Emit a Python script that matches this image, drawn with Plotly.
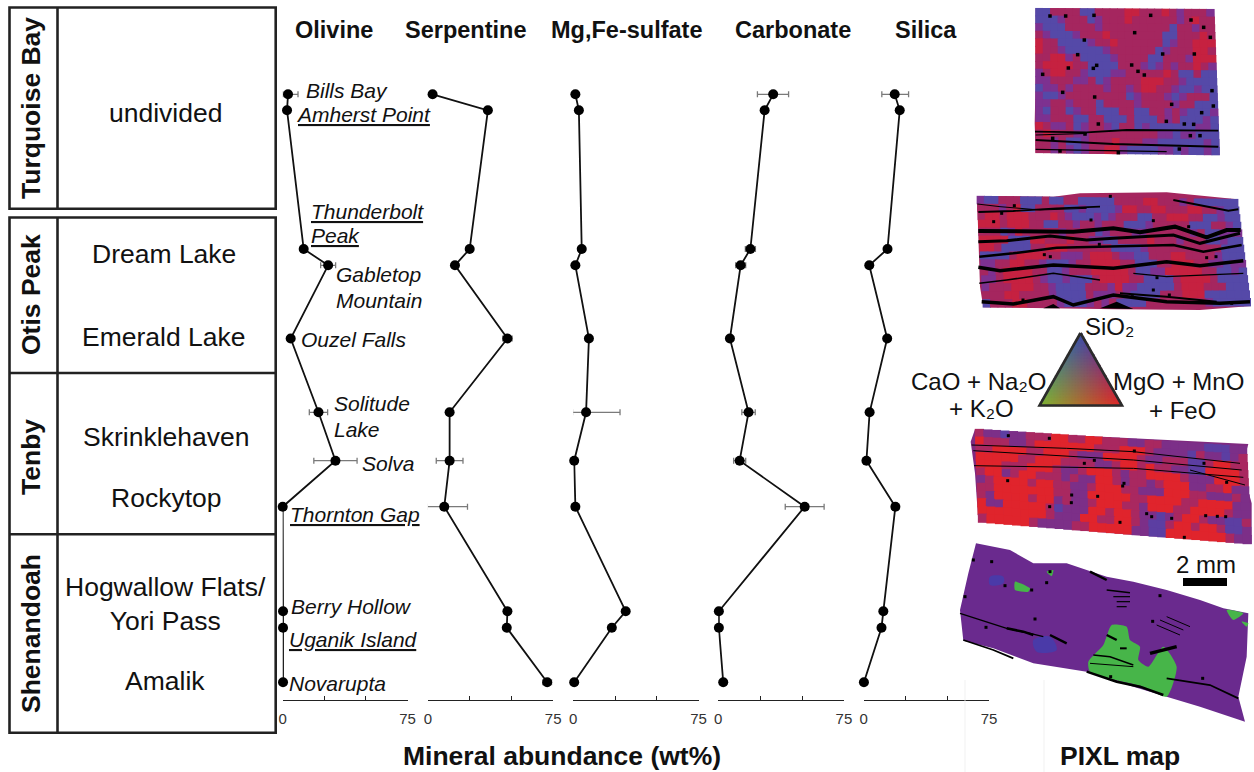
import numpy as np
import plotly.graph_objects as go

W, H = 1254, 772

# ---------- data ----------
samples = ["Bills Bay", "Amherst Point", "Thunderbolt Peak", "Gabletop Mountain", "Ouzel Falls",
           "Solitude Lake", "Solva", "Thornton Gap", "Berry Hollow", "Uganik Island", "Novarupta"]
strat_pos = [94.3, 110.3, 249, 265.3, 338.5, 412.3, 460.7, 506.7, 611.3, 627.7, 682.3]

minerals = ["Olivine", "Serpentine", "Mg,Fe-sulfate", "Carbonate", "Silica"]
olivine = [3.2, 2.6, 12.6, 27.3, 4.8, 21.5, 31.7, 0, 0.2, 0.2, 0.2]
serpentine = [2.8, 35.9, 25, 16.2, 47.6, 13, 13, 9.8, 47.6, 47.2, 71.4]
sulfate = [1.3, 3.4, 5.1, 1.3, 9.4, 7.7, 0.6, 1.3, 31.4, 23.1, 0.6]
carbonate = [32.8, 27.7, 19.2, 13.4, 7, 18.1, 12.8, 51.6, 0.4, 0.4, 3]
silica = [18.6, 21.6, 14.3, 3.4, 14.1, 3.6, 1.7, 19, 11.8, 10.7, 0.2]

olivine_plus = [6, 0, 0, 4.5, 0, 5.5, 13, 0, 0, 0, 0]
olivine_minus = [3, 0, 0, 4.5, 0, 5.5, 13, 0, 0, 0, 0]
serpentine_plus = [0, 0, 0, 0, 2.8, 0, 8, 13.9, 0, 0, 2.6]
serpentine_minus = [0, 0, 0, 0, 2.8, 0, 8, 10.3, 0, 0, 2.6]
sulfate_plus = [0, 0, 0, 0, 0, 20.3, 0, 0, 0, 0, 0]
sulfate_minus = [0, 0, 0, 0, 0, 8.1, 0, 0, 0, 0, 0]
carbonate_plus = [9.2, 0, 3, 3, 0, 4, 3.6, 11.6, 0, 0, 0]
carbonate_minus = [9.4, 0, 3, 3, 0, 4, 3.6, 11.6, 0, 0, 0]
silica_plus = [8.3, 0, 0, 0, 0, 0, 0, 0, 0, 0, 0]
silica_minus = [7.7, 0, 0, 0, 0, 0, 0, 0, 0, 0, 0]

tick_vals = [0, 25, 50, 75]
tick_text = ["0", "", "", "75"]

members = ["undivided", "Dream Lake", "Emerald Lake", "Skrinklehaven", "Rockytop",
           "Hogwallow Flats/<br>Yori Pass", "Amalik"]
formations = ["Turquoise Bay", "Otis Peak", "Tenby", "Shenandoah"]

# PIXL maps: phase cells. B blue, P purple, M crimson, R red
m1_cells = [
 "BBMMMMBBMMMMRRMMMRMPMMMP",
 "BBBPMMMBPMMMRMMMMMMPMRMM",
 "PBBBMMMMPMMMMMMMMMBMMPMM",
 "MPBBBPMMMRMMMMMMMBBMMMRM",
 "RMMBBBBPMMRMMMMMMBPMMRRR",
 "RMMPBBBBBPMMMMMMBPMMMRRM",
 "MMRRPMBBBBPMMMMBBMMMPRRR",
 "MRRRRMMBBBBMMMPBPMPMMRMP",
 "PMRRMMPBBBPPMMMMMRMBBMBB",
 "PPMMMPPMBPMMMMRRRMMPBBBB",
 "BPPMPMMMMPMMPMRRMMPBBPBB",
 "PBBPMMMMMMMMBPMMMPBPMMMB",
 "PPMMPMMMBMMMMPMMMMPMMBBB",
 "PBMMBPMMBBBMMBBMMPMPBBBP",
 "PPMMMBBMMBBBMBBBMPMBBBPB",
 "RMPPMBPMMPBMMBPBBBBBBPPB",
 "MRMMMPPMMMMMMMMMPPBPPBBB",
 "MMPMBBPMMMRMMMPPBBBBBBPB",
 "MMPMPBPMMRRPBBBBPPBPBBPB",
]
m2_cells = [
 "PBBMMMBBBMBBMMBBBBBMMMMRRMMMPMBBBBBB",
 "MMMPMRBBMMMMBBPBBBBPRRMMRRMMMRRMMPBB",
 "MRRMRRRMMMRMPBBBPBPMMMBBMMRRRMMBBPBB",
 "RRRMRRRMMBBMMPMMPMMMBBBPMMMMMBBBMMPB",
 "MMMBPRMMMMMPMMMMBPMMMPPMMMMMMPMBBPPP",
 "RRRRBBBRRMMMRMMPPBBMMMMRMMMPMMMBBPBB",
 "RRMBBBBMMRRRMMMMMMBBBBPMMMMMMMMMMBBB",
 "BBBBMRRRRMMPPPMRRRMPPBBMMMRRMMMMPBBB",
 "PPMMRRMMPBBBPMMRRRRMMBBBMMRRRMMPPBPP",
 "MPMRRRRMMBBPMMMRRRRRMBBPPRRRRRMMBBPB",
 "PPMRRRRMPBBPBBBMRRRRMMBBBBMRRRRMBBBB",
 "PMMMRRRMMPBBBBMMMPRPPBBBBBMRRRMMMBBB",
 "MMMRRMMMMPBBBBMPPPMPBBBBMMMRRRBBBBBB",
 "BMMMRRMMMMPBBBPMPMBBBBMMMMMMMMPBBBBB",
]
m3_cells = [
 "MPPBPPMMMRRMMRRMMMPPMMPPPPPBBBPP",
 "RMMMPPMRRRRRRRMMMRRRMPPPPBMPPBPM",
 "MMRRRRMMRRRMPPPRRRRMPPMMMBBMRRMM",
 "RRRRRMMRRRMMMMPPMRRMRMMPPBBRRRRM",
 "RRRMMMRRRMPPMRRRMPMMRRRRMPPPRRRM",
 "MRRPMRRMMMPMPPRRMPMMPMRRRPPMMRPP",
 "PMRRRRMRRMMPPMRRRMMPPPRRRMMPPPMP",
 "MMRRRRRRRMMPPRRRRRMMRRRRMMRRRRPP",
 "MPRRRRMRRPMPPMRRRMMPRRRMMRRRRMPP",
 "RPPRRRRRMBPPPRRMRRMPPBPMRRMPPBBM",
 "RRRRRRRRMPPPRRMMRRMPBBMRRMRRMBBP",
 "MRRRRRMPPPPMMRRRRRPPBBRRRRRRRMPP",
]

# PIXL map outlines and features
m1_corners = [(407,25),(942,28),(959,465),(407,458)]
m1_outline = [(407,25),(942,28),(947,150),(959,465),(800,460),(650,463),(407,458),(404,370),(407,230)]
m1_lines = [([(405,395),(560,397),(680,390),(955,392)],1.8),
            ([(407,420),(640,432),(955,440)],2),
            ([(407,448),(500,450),(800,455)],1.2),
            ([(407,405),(560,400)],1.2)]
m1_dots = [(450,48),(497,48),(582,46),(752,46),(873,60),(911,82),(931,112),(704,98),(553,120),(533,164),(788,162),
           (883,162),(505,204),(580,205),(590,196),(695,195),(714,214),(733,225),(428,223),(488,277),(584,291),(815,313),
           (936,272),(940,318),(905,338),(799,364),(853,372),(881,373),(595,372),(458,415),(555,402),(871,407),(900,407),
           (838,447),(480,453),(655,458)]

m2_corners = [(231,588),(1012,598),(1053,918),(250,922)]
m2_outline = [(231,588),(460,590),(540,580),(800,577),(1012,598),(1020,690),(1030,790),(1053,918),(900,930),
              (650,928),(500,925),(250,922),(240,860),(234,700)]
m2_lines = [([(232,612),(300,620),(420,630),(560,625)],1),
            ([(235,636),(340,633),(470,625),(600,620)],1.8),
            ([(820,600),(900,615),(985,632),(1015,628)],2),
            ([(235,693),(400,695),(520,695),(640,685),(720,697),(825,680),(920,712),(980,690),(1022,690)],4),
            ([(235,725),(320,722),(450,708),(560,720),(640,715),(820,705),(900,730),(1020,700)],3),
            ([(238,770),(340,760),(470,743),(600,740),(680,740),(820,735),(910,755),(1025,735)],2.5),
            ([(235,802),(300,812),(460,795),(640,805),(800,785),(900,797),(1030,782)],3.5),
            ([(238,850),(320,840),(460,820),(600,840)],1.5),
            ([(660,880),(800,890),(950,905)],2),
            ([(245,905),(340,912),(460,890),(520,915),(640,885),(800,905),(960,910),(1050,905)],3.5),
            ([(700,820),(800,830),(1030,820)],1.2)]
m2_wedges = [[(430,925),(460,912),(480,925)], [(600,925),(650,905),(700,927)]]
m2_dots = [(343,617),(305,640),(281,665),(573,660),(760,662),(866,680),(598,733),(433,764),(451,770),(920,773),(948,770),
           (771,833),(760,870),(697,890),(808,885),(995,910),(369,900),(631,589)]

m3_corners = [(225,88),(1040,140),(1055,432),(235,365)]
m3_outline = [(225,88),(500,105),(1045,132),(1040,150),(1015,160),(1030,220),(1055,310),(1055,432),(700,405),
              (235,365),(225,220),(212,125)]
m3_lines = [([(215,135),(500,145),(700,155),(1020,190)],1),
            ([(220,152),(700,180),(1025,210)],1),
            ([(222,197),(700,205),(1030,232)],1),
            ([(870,210),(1035,255)],1)]
m3_dots = [(325,107),(448,115),(703,153),(912,190),(553,190),(583,181),(323,242),(672,250),(668,258),(980,247),(515,285),
           (593,289),(514,308),(449,320),(740,341),(755,350),(815,355),(660,367),(917,347),(952,349),(977,350),(853,412)]

m4_outline = [(228,430),(330,450),(400,490),(500,490),(620,530),(700,545),(800,570),(900,600),(970,625),(1045,640),
              (1040,770),(1015,890),(1035,965),(900,920),(700,860),(560,815),(400,790),(280,745),(190,722),(180,630),(205,520)]
m4_green = [
 [(635,675),(680,680),(690,720),(720,740),(715,780),(745,800),(790,740),(830,800),(800,890),(730,860),(690,850),
  (570,815),(565,785),(610,735)],
 [(345,545),(390,565),(385,575),(345,570)],
 [(980,630),(1030,640),(1000,660)],
 [(1025,665),(1045,670),(1040,680)],
 [(440,515),(460,510),(455,528)],
]
m4_blue = [
 [(270,530),(310,530),(310,550),(270,555)],
 [(400,720),(450,710),(470,750),(410,755)],
]
m4_lines = [([(180,640),(260,665),(320,685),(390,700),(430,710)],1.3),
            ([(190,720),(280,750),(340,775)],1.8),
            ([(320,685),(370,695),(400,705)],2.5),
            ([(450,705),(500,730)],2.5),
            ([(560,815),(650,845),(720,860),(790,885)],2.5),
            ([(750,760),(830,740)],3.5),
            ([(800,835),(930,855),(1015,895)],1.8),
            ([(570,515),(620,540)],2.5),
            ([(620,570),(690,578)],1.5),([(640,590),(690,590)],1.2),([(650,605),(690,605)],1.2),([(650,620),(680,620)],1.2),
            ([(800,650),(870,680)],1),([(780,660),(850,690)],1),([(770,675),(840,705)],1),
            ([(580,765),(630,770),(700,795)],1.5),([(570,790),(700,800)],1),([(620,705),(650,720)],2.5),([(660,745),(680,745)],2)]
m4_dots = [(220,480),(275,485),(450,515),(440,548),(315,557),(395,570),(780,587),(758,664),(405,657),(258,682),(632,830),(908,835),(195,590)]

# ---------- layout constants ----------
panel_left = [282.7, 427.9, 573.2, 718.2, 863.6]
panel_right = [407.5, 553.2, 698.6, 843.9, 989.0]
axis_y = 700


def fx(x):
    return x / W


def fy(y):
    return 1 - y / H


FONT = "Liberation Sans, Arial, sans-serif"
INK = "#111111"

fig = go.Figure()


# ---------- PIXL maps, on an invisible full-page axis pair ----------
def z4(pts):
    return [900 + p[0] / 3 for p in pts], [p[1] / 3 for p in pts]


def z5(pts):
    return [900 + p[0] / 3 for p in pts], [400 + p[1] / 3 for p in pts]


def poly(pts, conv, color, smooth=False):
    xs, ys = conv(pts)
    line_style = dict(width=0, color=color)
    if smooth:
        line_style = dict(width=0, color=color, shape="spline", smoothing=smooth)
    fig.add_trace(go.Scatter(x=xs + xs[:1], y=ys + ys[:1], mode="lines", fill="toself", fillcolor=color,
                             line=line_style, xaxis="x6", yaxis="y6",
                             hoverinfo="skip", showlegend=False))


def cells(rows, corners, conv, palette, size):
    (ax, ay), (bx, by), (cx, cy), (dx, dy) = corners
    px, py, pc = [], [], []
    for j, row in enumerate(rows):
        v = (j + 0.5) / len(rows)
        for i, ch in enumerate(row):
            u = (i + 0.5) / len(row)
            px.append((1 - v) * ((1 - u) * ax + u * bx) + v * ((1 - u) * dx + u * cx))
            py.append((1 - v) * ((1 - u) * ay + u * by) + v * ((1 - u) * dy + u * cy))
            pc.append(palette[ch])
    xs, ys = conv(list(zip(px, py)))
    fig.add_trace(go.Scatter(x=xs, y=ys, mode="markers", marker=dict(size=size, color=pc, symbol="square", line=dict(width=0)),
                             xaxis="x6", yaxis="y6", hoverinfo="skip", showlegend=False))


def strokes(items, conv):
    for pts, w in items:
        xs, ys = conv(pts)
        fig.add_trace(go.Scatter(x=xs, y=ys, mode="lines", line=dict(width=w, color="black"), xaxis="x6", yaxis="y6",
                                 hoverinfo="skip", showlegend=False))


def dots(pts, conv, size=3.5):
    xs, ys = conv(pts)
    fig.add_trace(go.Scatter(x=xs, y=ys, mode="markers", marker=dict(size=size, color="black", symbol="square"),
                             xaxis="x6", yaxis="y6", hoverinfo="skip", showlegend=False))


PAL_A = {"B": "#5549a8", "P": "#7d3190", "M": "#a5265f", "R": "#c62140"}
PAL_B = {"B": "#5c3ea2", "P": "#7c2f88", "M": "#a92860", "R": "#e0242c"}

poly(m1_outline, z4, "#a5265f")
cells(m1_cells, m1_corners, z4, PAL_A, 8.4)
strokes(m1_lines, z4)
dots(m1_dots, z4)

poly(m2_outline, z4, "#a5265f")
cells(m2_cells, m2_corners, z4, PAL_A, 8.4)
strokes(m2_lines, z4)
for p in m2_wedges:
    poly(p, z4, "black")
dots(m2_dots, z4, 3)

poly(m3_outline, z5, "#7f2a80")
cells(m3_cells, m3_corners, z5, PAL_B, 9.2)
strokes(m3_lines, z5)
dots(m3_dots, z5, 3)

poly(m4_outline, z5, "#6a2a8e")
for p in m4_blue:
    poly(p, z5, "#4a3aa8", 1.0)
for p in m4_green:
    poly(p, z5, "#47b549", 0.6)
strokes(m4_lines, z5)
dots(m4_dots, z5, 3)

# ternary colour key (a colour ramp, not a data series)
tx0, ty0, tw, th = 1039.5, 333.0, 82.5, 72.5
c_top, c_left, c_right = np.array([58, 78, 172]), np.array([125, 182, 52]), np.array([226, 38, 40])
kx, ky, kc = [], [], []
for yy in np.arange(ty0, ty0 + th + 0.1, 1.5):
    a = (yy - ty0) / th
    for xx in np.arange(tx0, tx0 + tw + 0.1, 1.5):
        d = xx - (tx0 + tw / 2)
        if abs(d) <= a * tw / 2:
            r = (a * tw / 2 + d) / tw
            l = a - r
            col = np.clip((1 - a) * c_top + l * c_left + r * c_right, 0, 255).astype(int)
            kx.append(float(xx))
            ky.append(float(yy))
            kc.append(f"rgb({col[0]},{col[1]},{col[2]})")
fig.add_trace(go.Scatter(x=kx, y=ky, mode="markers", marker=dict(size=2.4, color=kc, symbol="square", line=dict(width=0)),
                         xaxis="x6", yaxis="y6", hoverinfo="skip", showlegend=False))
tri_x, tri_y = [1080.5, 1039.5, 1122, 1080.5], [333, 405.5, 405.5, 333]
fig.add_trace(go.Scatter(x=tri_x, y=tri_y, mode="lines", line=dict(width=2.6, color="#2b2b2b"), xaxis="x6", yaxis="y6",
                         hoverinfo="skip", showlegend=False))

# ---------- mineral profiles ----------
series = [(olivine, olivine_plus, olivine_minus), (serpentine, serpentine_plus, serpentine_minus),
          (sulfate, sulfate_plus, sulfate_minus), (carbonate, carbonate_plus, carbonate_minus),
          (silica, silica_plus, silica_minus)]
for k, (vals, ep, em) in enumerate(series):
    ax = "" if k == 0 else str(k + 1)
    fig.add_trace(go.Scatter(
        x=vals, y=strat_pos, text=samples, name=minerals[k], mode="lines+markers", cliponaxis=False,
        xaxis="x" + ax, yaxis="y", showlegend=False,
        line=dict(color=INK, width=1.8), marker=dict(color="black", size=10),
        error_x=dict(type="data", symmetric=False, array=ep, arrayminus=em, color="#7a7a7a", thickness=1.3, width=3),
    ))

layout_axes = {}
for k in range(5):
    key = "xaxis" if k == 0 else f"xaxis{k + 1}"
    layout_axes[key] = dict(domain=[fx(panel_left[k]), fx(panel_right[k])], range=[0, 75], anchor="y", automargin=False,
                            showline=True, linecolor="#222222", linewidth=1.3, ticks="inside", ticklen=4, tickwidth=1.1,
                            tickcolor="#222222", tickmode="array", tickvals=tick_vals, ticktext=tick_text,
                            tickangle=0, showgrid=False, zeroline=False, fixedrange=True, ticklabelstandoff=5,
                            tickfont=dict(family=FONT, size=15, color="#333333"))

shapes = []


def line(x0, y0, x1, y1, w=2.6, color="#222222"):
    shapes.append(dict(type="line", xref="paper", yref="paper", x0=fx(x0), y0=fy(y0), x1=fx(x1), y1=fy(y1),
                       line=dict(color=color, width=w)))


def rect(x0, y0, x1, y1, w=2.6, color="#222222", fill=None):
    shapes.append(dict(type="rect", xref="paper", yref="paper", x0=fx(x0), y0=fy(y0), x1=fx(x1), y1=fy(y1),
                       line=dict(color=color, width=w), fillcolor=fill))


rect(9.5, 7.5, 275.7, 208.7)
line(57.5, 7.5, 57.5, 208.7)
rect(9.5, 217.5, 275.7, 732.7)
line(57.5, 217.5, 57.5, 732.7)
line(9.5, 373, 275.7, 373)
line(9.5, 534.3, 275.7, 534.3)
# scale bar and faint frame lines from the pasted panel
rect(1183, 578, 1227, 586, w=0, color="black", fill="black")
line(965, 680, 965, 772, w=0.8, color="#eeeeee")
line(1044, 680, 1044, 772, w=0.8, color="#eeeeee")

ann = []


def text(x, y, s, size, anchor="center", color=INK, angle=0, align="center"):
    ann.append(dict(xref="paper", yref="paper", x=fx(x), y=fy(y), text=s, showarrow=False, xanchor=anchor, yanchor="middle",
                    align=align, textangle=angle, font=dict(family=FONT, size=size, color=color), borderpad=0, borderwidth=0))


# formation and member columns
for name, yc in zip(formations, [108, 294, 457, 634]):
    text(31, yc, f"<b>{name}</b>", 26.5, angle=-90)
member_pos = [(166, 113), (164, 254), (164, 337), (166, 437), (166, 498), (166, 604), (165, 681)]
for name, (x, y) in zip(members, member_pos):
    text(x, y, name, 26.5)

# column headings
for name, xc in zip(minerals, [334, 465.5, 626, 793, 926]):
    text(xc, 30, f"<b>{name}</b>", 23.5)
text(562, 756, "<b>Mineral abundance (wt%)</b>", 26.5)
text(1120, 756, "<b>PIXL map</b>", 26.5)

# sample names (underlined where the picture underlines them)
label_spec = [
    ("<i>Bills Bay</i>", 306, 91),
    ("<i><u>Amherst Point</u></i>", 296, 115),
    ("<i><u>Thunderbolt</u></i>", 311, 211),
    ("<i><u>Peak</u></i>", 311, 236),
    ("<i>Gabletop</i>", 336, 275),
    ("<i>Mountain</i>", 336, 300),
    ("<i>Ouzel Falls</i>", 301, 339),
    ("<i>Solitude</i>", 334, 403),
    ("<i>Lake</i>", 334, 429),
    ("<i>Solva</i>", 362, 463),
    ("<i><u>Thornton Gap</u></i>", 290, 514),
    ("<i>Berry Hollow</i>", 291, 606),
    ("<i><u>Uganik Island</u></i>", 289, 639),
    ("<i>Novarupta</i>", 289, 683),
]
for s, x, y in label_spec:
    text(x, y, s, 21, anchor="left")

# colour key labels and scale bar label
text(1109, 327, "SiO₂", 24)
text(978.5, 381, "CaO + Na₂O", 24)
text(981, 408, "+ K₂O", 24)
text(1178, 381, "MgO + MnO", 24)
text(1182, 410, "+ FeO", 24)
text(1206, 564, "2 mm", 24)

fig.update_layout(
    width=W, height=H, margin=dict(l=0, r=0, t=0, b=0, pad=0), autosize=False,
    paper_bgcolor="white", plot_bgcolor="rgba(0,0,0,0)", showlegend=False,
    yaxis=dict(domain=[fy(axis_y), 1], range=[axis_y, 0], visible=False, fixedrange=True, anchor="x", automargin=False),
    xaxis6=dict(domain=[0, 1], range=[0, W], visible=False, anchor="y6", fixedrange=True, automargin=False),
    yaxis6=dict(domain=[0, 1], range=[H, 0], visible=False, anchor="x6", fixedrange=True, automargin=False),
    shapes=shapes, annotations=ann, hovermode=False,
    **layout_axes,
)

fig.write_html("out.html", post_script="document.body.style.margin='0';", config={"displayModeBar": False})
